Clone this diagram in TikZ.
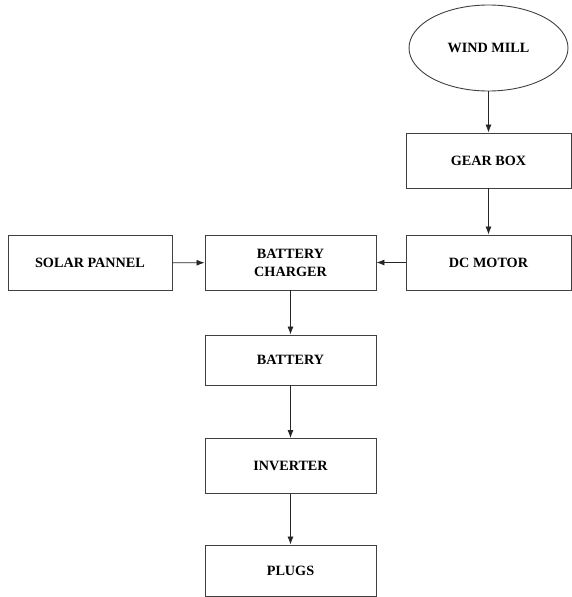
\documentclass[tikz,border=0pt]{standalone}
\usepackage{fontspec}
\setmainfont{Liberation Serif}
\usetikzlibrary{shapes.geometric, arrows.meta}

\begin{document}
\begin{tikzpicture}[
        x=1pt, y=-1pt, % координаты в пикселях, ось y вниз
        every node/.style = {font=\fontsize{14.2}{18}\selectfont\bfseries},
        block/.style = {rectangle, draw=black!75, line width=0.9pt, minimum width=171pt,
            minimum height=55pt, align=center, inner sep=0pt}, % блоки схемы
        mill/.style = {ellipse, draw=black!75, line width=0.9pt, minimum width=159pt,
            minimum height=86pt, inner sep=0pt}, % ветряк
        link/.style = {draw=black!85, line width=0.8pt, -{Latex[length=8pt, width=6pt]}},
    ]
    \useasboundingbox (0,0) rectangle (572,597);

    \node[mill] (wind) at (488.5,48) {WIND MILL};
    \node[block, minimum width=165pt] (gear) at (488.5,160.5) {GEAR BOX};
    \node[block, minimum width=165pt] (motor) at (488.5,262.5) {DC MOTOR};
    \node[block] (charger) at (290.5,262.5) {BATTERY\\CHARGER};
    \node[block, minimum width=164pt] (solar) at (90,263) {SOLAR PANNEL};
    \node[block, minimum height=50pt] (battery) at (290.5,360) {BATTERY};
    \node[block] (inverter) at (290.5,466) {INVERTER};
    \node[block, minimum height=51pt] (plugs) at (290.5,570.5) {PLUGS};

    \draw[link] (wind) -- (gear);
    \draw[link] (gear) -- (motor);
    \draw[link] (motor) -- (charger);
    \draw[link] (solar) -- (charger);
    \draw[link] (charger) -- (battery);
    \draw[link] (battery) -- (inverter);
    \draw[link] (inverter) -- (plugs);

\end{tikzpicture}
\end{document}
